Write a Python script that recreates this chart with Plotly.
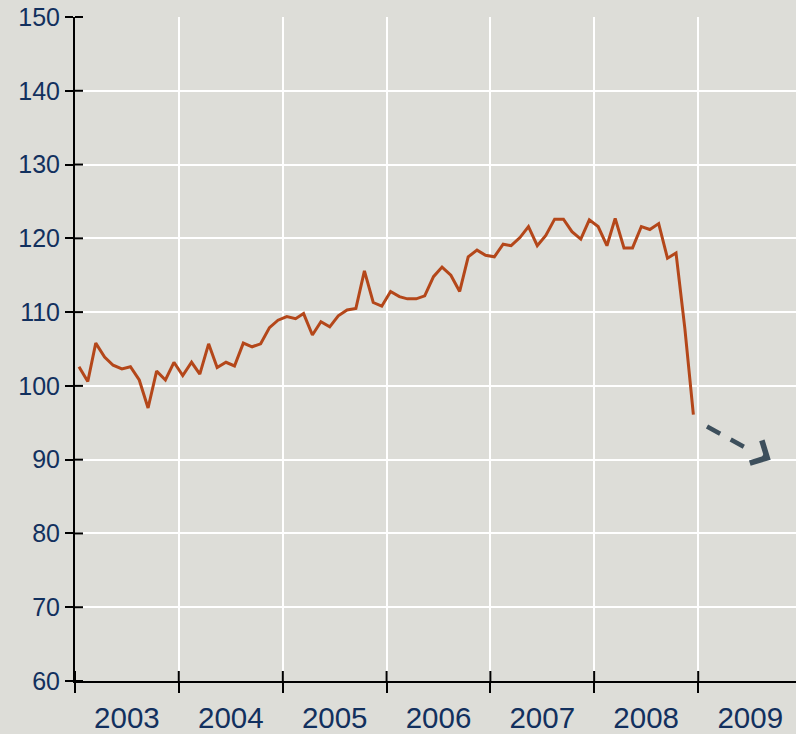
import pandas as pd
import plotly.graph_objects as go

# Monthly index values, Jan 2003 - Dec 2008
values_2003 = [102.6, 100.6, 105.8, 103.9, 102.8, 102.3, 102.6, 100.8, 97.0, 102.0, 100.8, 103.2]
values_2004 = [101.4, 103.2, 101.6, 105.7, 102.5, 103.2, 102.7, 105.8, 105.3, 105.7, 107.9, 108.9]
values_2005 = [109.4, 109.1, 109.8, 106.9, 108.7, 108.0, 109.5, 110.3, 110.5, 115.6, 111.3, 110.8]
values_2006 = [112.8, 112.1, 111.8, 111.8, 112.2, 114.8, 116.1, 115.0, 112.8, 117.5, 118.4, 117.7]
values_2007 = [117.5, 119.2, 119.0, 120.1, 121.6, 119.0, 120.4, 122.6, 122.6, 120.9, 119.9, 122.5]
values_2008 = [121.6, 119.0, 122.7, 118.7, 118.7, 121.6, 121.2, 122.0, 117.3, 118.0, 107.8, 96.1]
values = values_2003 + values_2004 + values_2005 + values_2006 + values_2007 + values_2008
months = pd.date_range("2003-01-01", periods=len(values), freq="MS") + pd.Timedelta(days=14)

# Forecast arrow (dashed shaft, then arrow head)
arrow_shaft_x = ["2009-02-01", "2009-06-11"]
arrow_shaft_y = [94.5, 91.75]
arrow_tip_x = "2009-09-13"
arrow_tip_y = 90.0

y_ticks = list(range(60, 151, 10))
year_ticks = [f"{y}-01-01" for y in range(2003, 2010)]

bg = "#DDDDD8"
line_color = "#B4471A"
arrow_color = "#3D4F5C"
text_color = "#12305E"
font_family = "Liberation Sans, Arial, sans-serif"

x_range = ["2003-01-01", "2009-12-11"]
y_range = [60, 150]

fig = go.Figure()
fig.add_trace(go.Scatter(x=list(months), y=values, mode="lines",
                         line=dict(color=line_color, width=3), showlegend=False,
                         hoverinfo="skip"))
fig.add_trace(go.Scatter(x=arrow_shaft_x, y=arrow_shaft_y, mode="lines",
                         line=dict(color=arrow_color, width=4.5, dash="15px,12px"),
                         showlegend=False, hoverinfo="skip"))

# arrow head at the end of the forecast
fig.add_annotation(x=arrow_tip_x, y=arrow_tip_y, xref="x", yref="y", text=" ",
                   showarrow=True, ax=-32, ay=-17, arrowhead=4, arrowsize=1.1,
                   arrowwidth=4.5, arrowcolor=arrow_color, standoff=0, startstandoff=24)

# inner halves of the crossing tick marks
for v in y_ticks:
    frac = (v - y_range[0]) / (y_range[1] - y_range[0])
    fig.add_shape(type="line", xref="paper", yref="paper", xsizemode="pixel", xanchor=0,
                  x0=0, x1=8, y0=frac, y1=frac, line=dict(color="black", width=2))
for d in year_ticks:
    fig.add_shape(type="line", xref="x", yref="paper", ysizemode="pixel", yanchor=0,
                  y0=0, y1=10, x0=d, x1=d, line=dict(color="black", width=2))

fig.update_layout(
    width=796, height=734,
    paper_bgcolor=bg, plot_bgcolor=bg,
    margin=dict(l=75, r=0, t=17, b=48),
    font=dict(family=font_family, color=text_color),
    xaxis=dict(type="date", range=x_range, tick0="2003-01-01", dtick="M12",
               tickformat="%Y", ticklabelmode="period",
               ticks="outside", ticklen=10, tickwidth=2, tickcolor="black",
               showline=True, linecolor="black", linewidth=2,
               showgrid=True, gridcolor="white", gridwidth=2, zeroline=False,
               tickfont=dict(size=29.5, color=text_color, family=font_family)),
    yaxis=dict(range=y_range, tickvals=y_ticks,
               ticks="outside", ticklen=8, tickwidth=2, tickcolor="black",
               showline=True, linecolor="black", linewidth=2,
               showgrid=True, gridcolor="white", gridwidth=2, zeroline=False,
               tickfont=dict(size=25, color=text_color, family=font_family)),
)

fig.write_html("out.html", config={"displayModeBar": False},
               post_script="document.body.style.margin='0';document.body.style.background='#DDDDD8';document.body.style.overflow='hidden';")
